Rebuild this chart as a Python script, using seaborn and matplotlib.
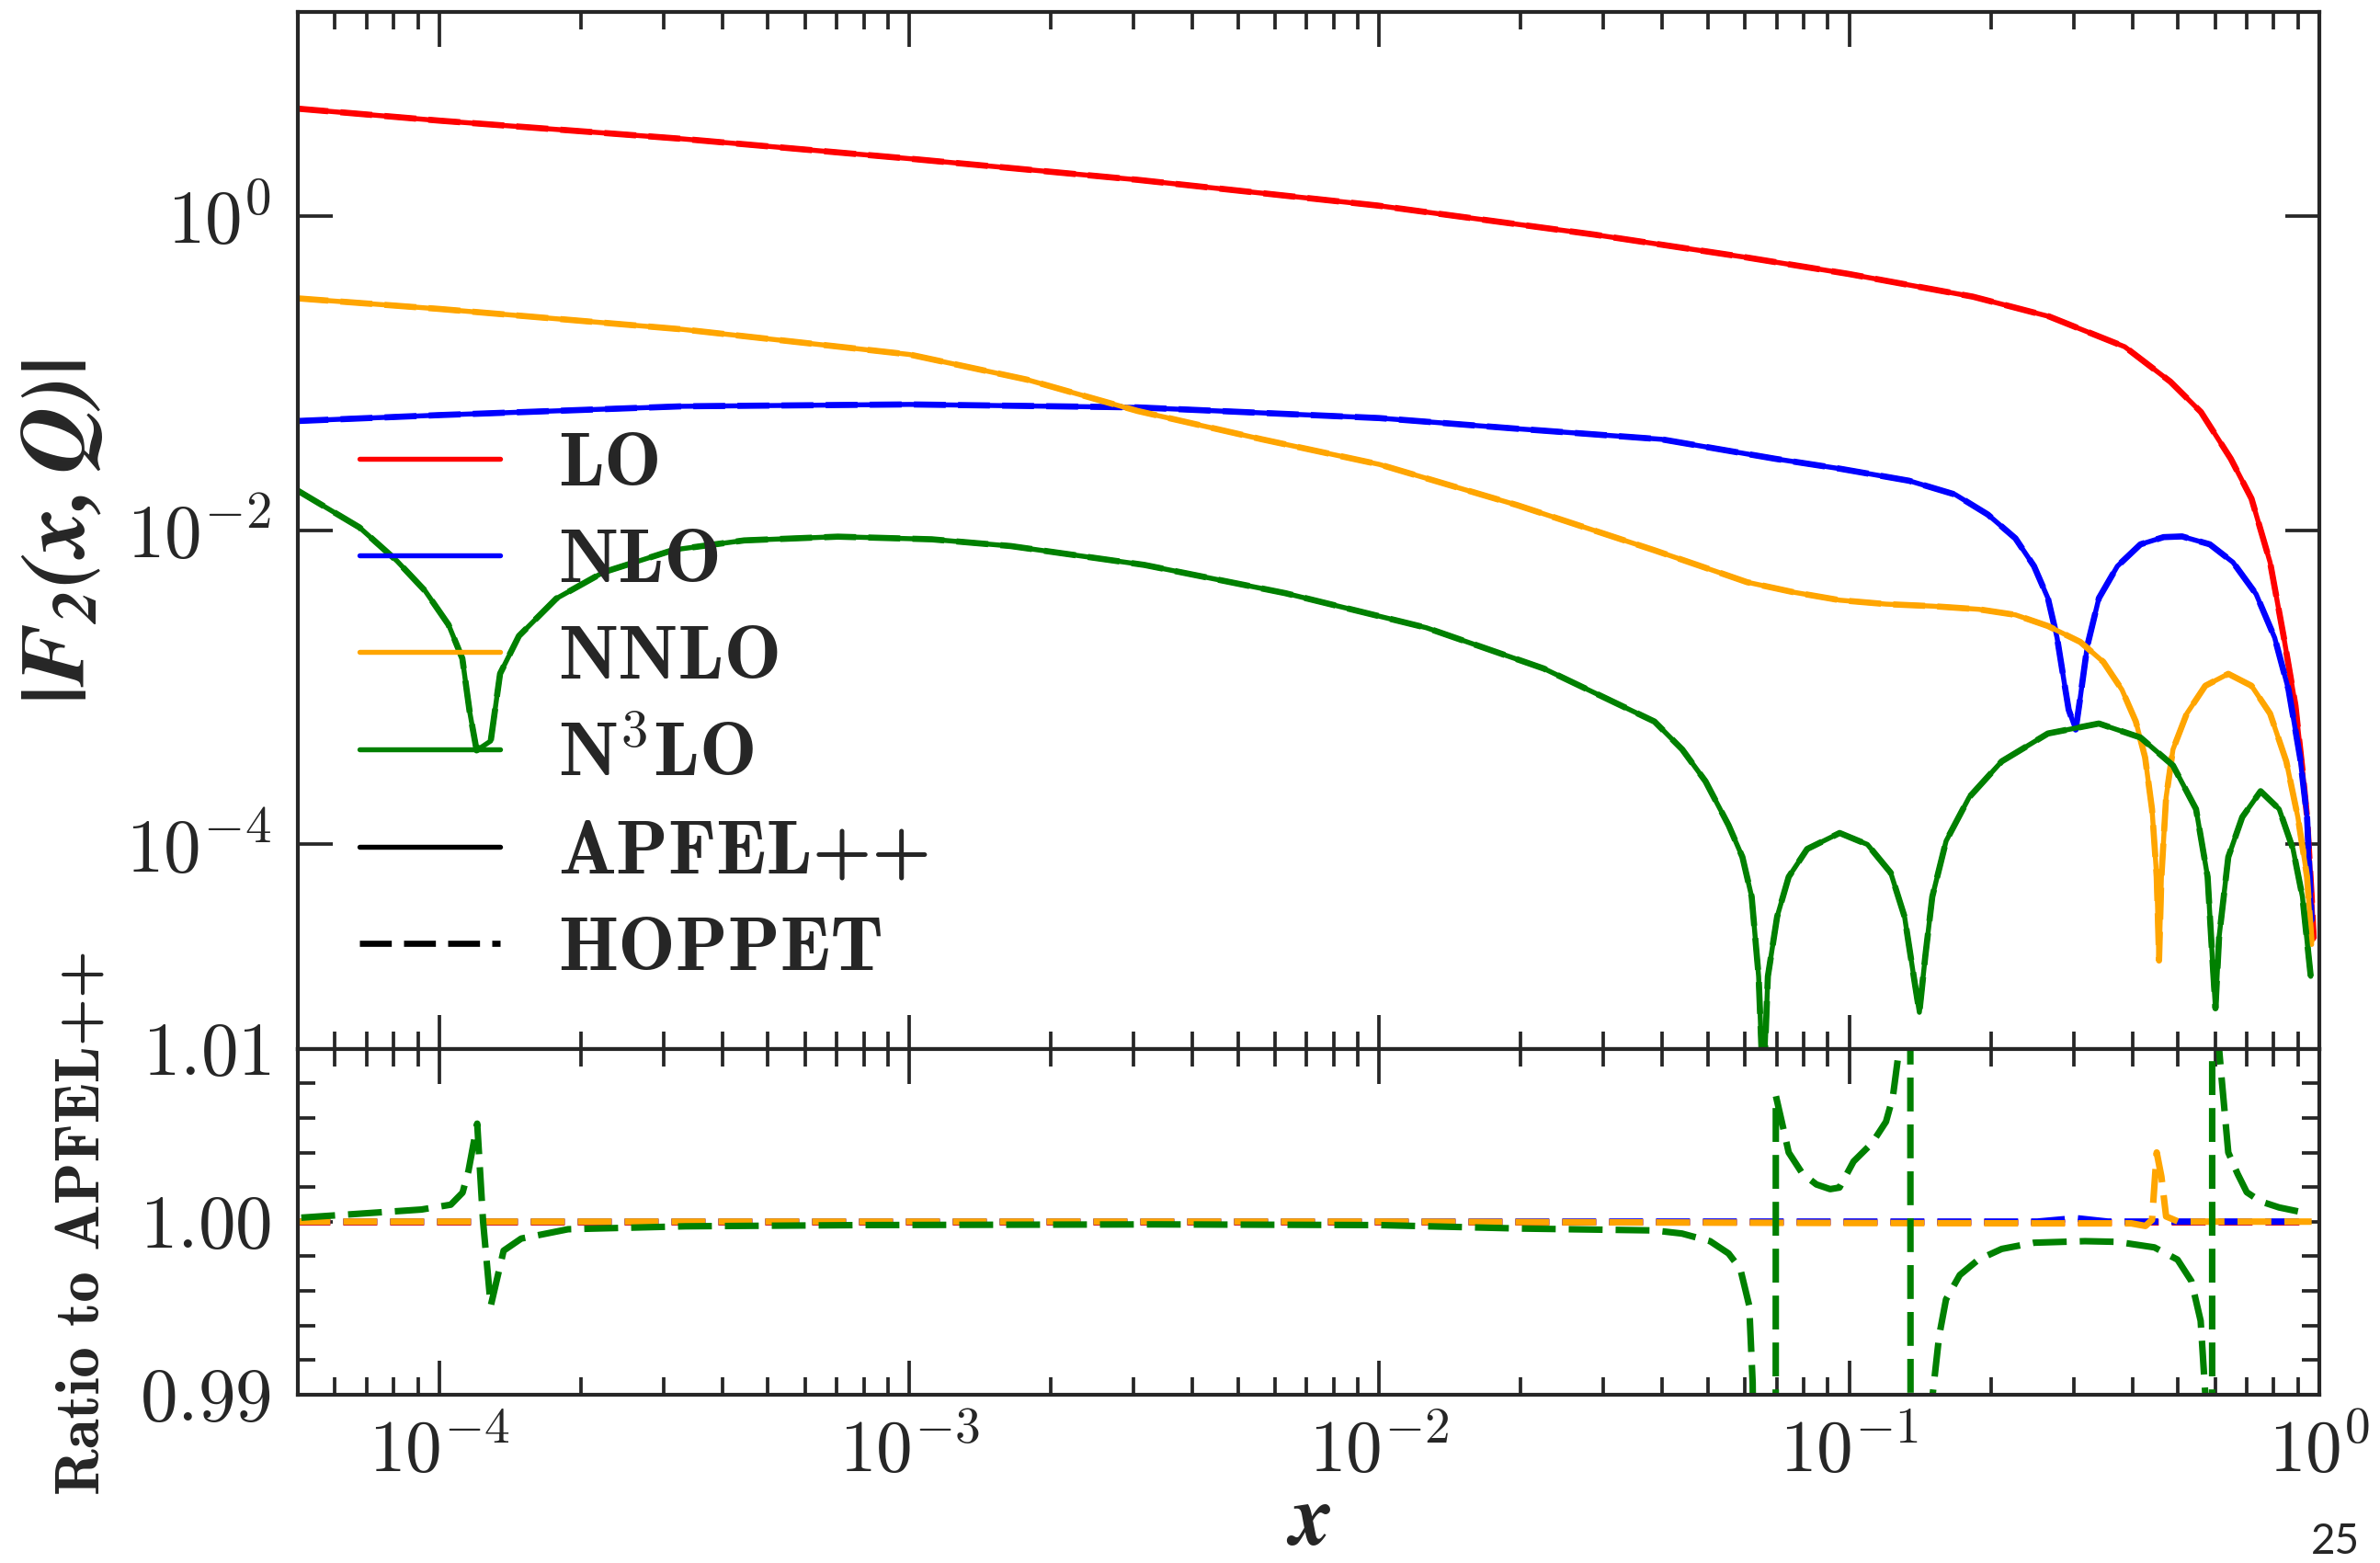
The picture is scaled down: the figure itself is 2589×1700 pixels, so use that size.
import numpy as np
import matplotlib
matplotlib.use("Agg")
import matplotlib.pyplot as plt
import seaborn as sns
from matplotlib.lines import Line2D
from matplotlib.ticker import FixedLocator, FuncFormatter, NullLocator, LogLocator, MultipleLocator

# ---------------------------------------------------------------------------
# |F2(x, Q)| per perturbative order, given as log10(x) and log10(|F2|)
# ---------------------------------------------------------------------------
lo_logx = [-4.304, -4.0, -3.483, -3.0, -2.514, -2.003, -1.544, -1.221, -1.002, -0.737,
           -0.575, -0.414, -0.317, -0.252, -0.1884, -0.1443, -0.1048, -0.0754, -0.0508,
           -0.036, -0.0261, -0.0163, -0.012]
lo_logf = [0.686, 0.609, 0.493, 0.367, 0.232, 0.068, -0.116, -0.261, -0.367, -0.512,
           -0.638, -0.831, -1.053, -1.246, -1.544, -1.798, -2.203, -2.684, -3.116,
           -3.522, -3.826, -4.333, -4.6]

nlo_logx = [-4.304, -4.0, -3.483, -3.0, -2.514, -2.0, -1.706, -1.4, -1.158, -1.0206, -0.873,
            -0.7747, -0.7054, -0.6465, -0.607, -0.5775, -0.558, -0.543, -0.5333, -0.5184,
            -0.5086, -0.4937, -0.469, -0.4297, -0.3806, -0.3313, -0.292, -0.233, -0.1838,
            -0.1345, -0.095, -0.0655, -0.041, -0.0261, -0.0163]
nlo_logf = [-1.304, -1.266, -1.21, -1.198, -1.217, -1.285, -1.353, -1.42, -1.544, -1.607, -1.684,
            -1.772, -1.899, -2.051, -2.228, -2.4316, -2.684, -2.964, -3.142, -3.268,
            -3.064, -2.736, -2.4316, -2.228, -2.089, -2.043, -2.0386, -2.089, -2.203,
            -2.406, -2.684, -3.015, -3.446, -3.826, -4.486]

nnlo_logx = [-4.304, -4.0, -3.483, -3.0, -2.75, -2.514, -2.25, -2.0, -1.706, -1.4145, -1.316,
             -1.2175, -1.119, -1.0206, -0.922, -0.8235, -0.725, -0.6465, -0.5775, -0.5086,
             -0.4596, -0.420, -0.3904, -0.3707, -0.356, -0.346, -0.341, -0.336, -0.326,
             -0.3114, -0.282, -0.2426, -0.1937, -0.1443, -0.1048, -0.0703, -0.0457,
             -0.0261, -0.0163]
nnlo_logf = [-0.522, -0.59, -0.72, -0.88, -1.04, -1.24, -1.42, -1.58, -1.84, -2.127, -2.228,
             -2.33, -2.3936, -2.4444, -2.4696, -2.4825, -2.5025, -2.538, -2.609, -2.7105,
             -2.8374, -3.0146, -3.2175, -3.4456, -3.775, -4.2065, -4.739, -4.2065, -3.6994,
             -3.395, -3.1667, -2.9895, -2.9135, -2.9895, -3.1667, -3.471, -3.826,
             -4.2065, -4.637]

n3lo_logx = [-4.304, -4.170, -4.09, -4.030, -3.9804, -3.951, -3.9357, -3.9206, -3.8906,
             -3.8707, -3.8307, -3.751, -3.651, -3.501, -3.3515, -3.152, -2.952, -2.784,
             -2.5, -2.2, -1.9, -1.65, -1.4145, -1.3555, -1.306, -1.257, -1.2275, -1.2078,
             -1.193, -1.183, -1.1733, -1.1536, -1.129, -1.0897, -1.0206, -0.9615, -0.912,
             -0.8825, -0.863, -0.851, -0.8383, -0.8235, -0.7941, -0.745, -0.6758, -0.5775,
             -0.469, -0.3806, -0.3114, -0.2623, -0.2377, -0.2279, -0.221, -0.2132, -0.1937,
             -0.164, -0.125, -0.0854, -0.056, -0.036, -0.0183]
n3lo_logf = [-1.742, -1.981, -2.195, -2.386, -2.601, -2.816, -3.150, -3.401, -3.341,
             -2.912, -2.6725, -2.434, -2.267, -2.124, -2.064, -2.040, -2.057, -2.1,
             -2.22, -2.40, -2.62, -2.88, -3.2175, -3.395, -3.598, -3.877, -4.08, -4.333,
             -4.84, -5.6, -4.84, -4.46, -4.2065, -4.029, -3.927, -4.0, -4.18,
             -4.46, -4.84, -5.069, -4.71, -4.333, -3.978, -3.6994, -3.471, -3.2936,
             -3.230, -3.319, -3.497, -3.775, -4.2065, -4.71, -5.043, -4.587, -4.08,
             -3.826, -3.661, -3.775, -4.029, -4.333, -4.84]

# ---------------------------------------------------------------------------
# HOPPET / APFEL++ ratios
# ---------------------------------------------------------------------------
lo_ratio_logx = [-4.304, -0.0163]
lo_ratio = [1.0, 1.0]

nlo_ratio_logx = [-4.304, -0.6, -0.518, -0.45, -0.0163]
nlo_ratio = [1.0, 1.0, 1.0002, 1.0, 1.0]

nnlo_ratio_logx = [-4.304, -2.0, -1.0, -0.6, -0.4, -0.37, -0.356, -0.346, -0.336, -0.326,
                   -0.30, -0.2, -0.0163]
nnlo_ratio = [1.0, 1.0, 0.99992, 0.9999, 0.9999, 0.99975, 1.0001, 1.0040, 1.0026, 1.0003,
              1.0, 1.0, 1.0]

n3lo_ratio_logx = [-4.2937, -4.038, -3.9756, -3.9505, -3.938, -3.9194, -3.9069, -3.8906,
                   -3.8632, -3.8257, -3.726, -3.4763, -3.1018, -2.478, -2.0, -1.7, -1.4145,
                   -1.356, -1.2963, -1.257, -1.232, -1.213, -1.2057, -1.19, -1.1575, -1.1564,
                   -1.1437, -1.129, -1.0996, -1.070, -1.0408, -1.021, -0.991, -0.9517, -0.922,
                   -0.9075, -0.8946, -0.8715, -0.8685, -0.8235, -0.809, -0.7943, -0.765,
                   -0.7255, -0.6758, -0.607, -0.4988, -0.430, -0.351, -0.3017, -0.2722,
                   -0.2525, -0.2426, -0.235, -0.2285, -0.2275, -0.22, -0.2133, -0.2084,
                   -0.1937, -0.174, -0.1544, -0.125, -0.0856, -0.0217]
n3lo_ratio = [1.00023, 1.0007, 1.00098, 1.00168, 1.00293, 1.00567, 1.0, 0.99512,
              0.99832, 0.99902, 0.99956, 0.99973, 0.9998, 0.99984, 0.9998, 0.9996, 0.99949,
              0.99931, 0.99887, 0.99816, 0.99727, 0.99514, 0.9907, 0.95, 0.9, 1.00729,
              1.00578, 1.0040, 1.00277, 1.00215, 1.00188, 1.00197, 1.00348, 1.00454, 1.00578,
              1.0072, 1.00986, 1.08, 0.92, 0.9898, 0.99337, 0.99550, 0.99691,
              0.9978, 0.99842, 0.99878, 0.99887, 0.99883, 0.99851, 0.9978, 0.99656,
              0.99426, 0.99, 0.95, 0.9, 1.1, 1.05, 1.01, 1.00844,
              1.0040, 1.00277, 1.0017, 1.00117, 1.00082, 1.00046]

order_labels = ["LO", "NLO", "NNLO", r"N$^{\mathbf{3}}$LO"]
order_colors = ["red", "blue", "orange", "green"]
code_labels = ["APFEL++", "HOPPET"]

curves = [(lo_logx, lo_logf), (nlo_logx, nlo_logf), (nnlo_logx, nnlo_logf), (n3lo_logx, n3lo_logf)]
ratios = [(lo_ratio_logx, lo_ratio), (nlo_ratio_logx, nlo_ratio),
          (nnlo_ratio_logx, nnlo_ratio), (n3lo_ratio_logx, n3lo_ratio)]

# ---------------------------------------------------------------------------
sns.set_style("ticks")
plt.rcParams.update({
    "mathtext.fontset": "cm",
    "font.family": ["cmb10", "DejaVu Sans"],
    "axes.linewidth": 1.0,
    "axes.unicode_minus": True,
})

DPI = 300
fig = plt.figure(figsize=(2589 / DPI, 1700 / DPI), dpi=DPI)
ax_top = fig.add_axes([0.12514, 0.32900, 0.84937, 0.66335])
ax_rat = fig.add_axes([0.12514, 0.10782, 0.84937, 0.22118], sharex=ax_top)

ax_top.set_xscale("log")
ax_top.set_yscale("log")

SOLID_LW = 1.3
DASH_LW = 1.6
RATIO_LW = 1.7
DASH = (0, (5.2, 2.0))

for (lx, lf), col in zip(curves, order_colors):
    xv = np.power(10.0, lx)
    fv = np.power(10.0, lf)
    sns.lineplot(x=xv, y=fv, ax=ax_top, color=col, linewidth=SOLID_LW,
                 sort=False, estimator=None, legend=False)
    sns.lineplot(x=xv, y=fv, ax=ax_top, color=col, linewidth=DASH_LW, linestyle=DASH,
                 sort=False, estimator=None, legend=False)

for (lx, r), col in zip(ratios, order_colors):
    sns.lineplot(x=np.power(10.0, lx), y=r, ax=ax_rat, color=col, linewidth=RATIO_LW,
                 linestyle=DASH, sort=False, estimator=None, legend=False)

ax_top.set_xlim(5e-5, 1.0)
ax_top.set_ylim(5e-6, 20)
ax_rat.set_ylim(0.99, 1.01)

for ax in (ax_top, ax_rat):
    ax.set_xlabel("")
    ax.set_ylabel("")
    ax.tick_params(which="major", direction="in", length=9.0, width=0.9,
                   top=True, right=True, bottom=True, left=True)
    ax.tick_params(which="minor", direction="in", length=4.5, width=0.9,
                   top=True, right=True, bottom=True, left=True)

ax_rat.xaxis.set_major_locator(FixedLocator([1e-5, 1e-4, 1e-3, 1e-2, 1e-1, 1.0]))
ax_rat.xaxis.set_minor_locator(LogLocator(base=10, subs=np.arange(2, 10), numticks=50))
ax_rat.xaxis.set_major_formatter(FuncFormatter(lambda v, p: r"$10^{%d}$" % round(np.log10(v))))
ax_top.tick_params(labelbottom=False)
ax_rat.tick_params(axis="x", labelsize=19, pad=6)

ax_top.yaxis.set_major_locator(FixedLocator([1e-6, 1e-4, 1e-2, 1.0, 1e2]))
ax_top.yaxis.set_minor_locator(NullLocator())
ax_top.yaxis.set_major_formatter(
    FuncFormatter(lambda v, p: r"$\mathbf{10^{%d}}$" % round(np.log10(v))))
ax_top.tick_params(axis="y", labelsize=19.5, pad=7)

ax_rat.yaxis.set_major_locator(FixedLocator([0.99, 1.0, 1.01]))
ax_rat.yaxis.set_minor_locator(MultipleLocator(0.002))
ax_rat.yaxis.set_major_formatter(FuncFormatter(lambda v, p: r"$\mathbf{%.2f}$" % v))
ax_rat.tick_params(axis="y", labelsize=19.5, pad=7)

# axis titles
fig.text(0.026, 0.659, r"$\mathbfit{|F_2(x,Q)|}$", rotation=90, ha="center", va="center",
         fontsize=24, math_fontfamily="stix")
fig.text(0.0355, 0.2182, "Ratio to APFEL++", rotation=90, ha="center", va="center",
         fontsize=16.1, family="cmb10")
fig.text(0.5500, 0.002, r"$\mathbfit{x}$", ha="center", va="bottom", fontsize=22,
         math_fontfamily="stix")

# legend: perturbative orders by colour, codes by line style
handles = [Line2D([], [], color=c, lw=SOLID_LW) for c in order_colors]
handles += [Line2D([], [], color="black", lw=SOLID_LW),
            Line2D([], [], color="black", lw=DASH_LW, linestyle=DASH)]
labels = order_labels + code_labels
ax_top.legend(handles, labels, loc="upper left", bbox_to_anchor=(0.0305, 0.595),
              frameon=False, borderpad=0, borderaxespad=0, handlelength=1.83,
              handletextpad=0.76, labelspacing=0.37, prop={"family": "cmb10", "size": 20})

fig.text(0.9811, 0.0135, "25", ha="center", va="center", fontsize=11, family="Lato")

fig.savefig("out.png", dpi=DPI)
